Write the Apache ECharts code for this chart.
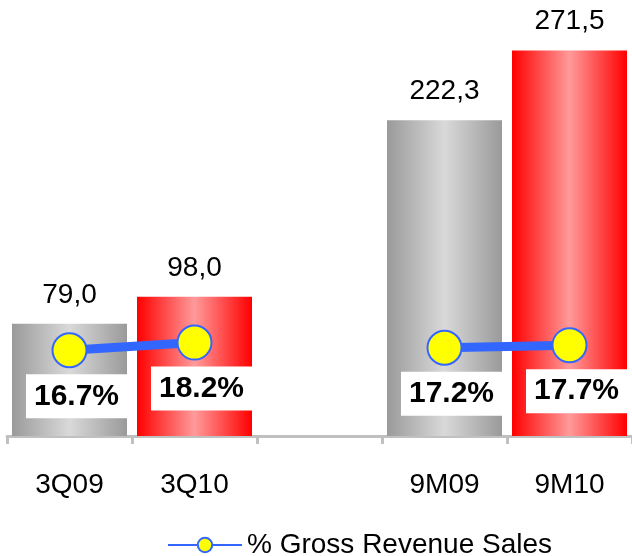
<!DOCTYPE html>
<html>
<head>
<meta charset="utf-8">
<script src="https://cdn.jsdelivr.net/npm/echarts@6/dist/echarts.min.js"></script>
<style>
  html, body { margin: 0; padding: 0; background: #fff; }
  #chart { width: 632px; height: 556px; }
</style>
</head>
<body>
<div id="chart"></div>
<script>
// periods (empty slot keeps the gap between quarter and 9M groups)
const categories = ['3Q09', '3Q10', '', '9M09', '9M10']
// gross revenue sales
const revenue = [79.0, 98.0, null, 222.3, 271.5]
// % gross revenue sales
const pctGross = [16.7, 18.2, null, 17.2, 17.7]
const isCurrentYear = [false, true, false, false, true]

const FONT = 'Liberation Sans, Arial, sans-serif'

function barGradient(edge, mid) {
  return new echarts.graphic.LinearGradient(0, 0, 1, 0, [
    { offset: 0, color: edge },
    { offset: 0.5, color: mid },
    { offset: 1, color: edge }
  ])
}

const grayFill = barGradient('#9a9a9a', '#d9d9d9')
const redFill = barGradient('#ff0000', '#ff9a9a')

const barData = revenue.map(function (v, i) {
  return {
    value: v,
    itemStyle: { color: isCurrentYear[i] ? redFill : grayFill }
  }
})

const chart = echarts.init(document.getElementById('chart'))
chart.setOption({
  animation: false,
  textStyle: { fontFamily: FONT },
  grid: { left: 7, right: 0, top: 10, bottom: 120 },
  legend: {
    left: 162,
    top: 526,
    itemWidth: 74,
    itemHeight: 18,
    itemGap: 10,
    textStyle: { fontSize: 28, color: '#000', fontFamily: FONT },
    data: ['% Gross Revenue Sales']
  },
  xAxis: {
    type: 'category',
    data: categories,
    boundaryGap: true,
    axisLine: { lineStyle: { color: '#c0c0c0', width: 3 } },
    axisTick: { show: true, length: 8, lineStyle: { color: '#c0c0c0', width: 3 } },
    axisLabel: { fontSize: 28, color: '#000', margin: 35, fontFamily: FONT }
  },
  yAxis: [
    { type: 'value', min: 0, max: 300, show: false, splitLine: { show: false } },
    { type: 'value', min: 0, max: 83, show: false, splitLine: { show: false } }
  ],
  series: [
    {
      name: 'Gross Revenue Sales',
      type: 'bar',
      barCategoryGap: '8%',
      data: barData,
      label: {
        show: true,
        position: 'top',
        distance: 15,
        fontSize: 28,
        color: '#000',
        fontFamily: FONT,
        formatter: function (p) {
          return p.value.toFixed(1).replace('.', ',')
        }
      }
    },
    {
      name: '% Gross Revenue Sales',
      type: 'line',
      yAxisIndex: 1,
      data: pctGross,
      connectNulls: false,
      symbol: 'circle',
      symbolSize: 34,
      lineStyle: { color: '#3366ff', width: 9 },
      itemStyle: { color: '#ffff00', borderColor: '#3366ff', borderWidth: 2 },
      label: {
        show: true,
        position: 'bottom',
        distance: 6,
        offset: [7, 0],
        backgroundColor: '#fff',
        padding: [5, 10, 5, 10],
        width: 81,
        lineHeight: 34,
        align: 'center',
        fontSize: 30,
        fontWeight: 'bold',
        color: '#000',
        fontFamily: FONT,
        formatter: function (p) {
          return p.value.toFixed(1) + '%'
        }
      }
    }
  ]
})
</script>
</body>
</html>
